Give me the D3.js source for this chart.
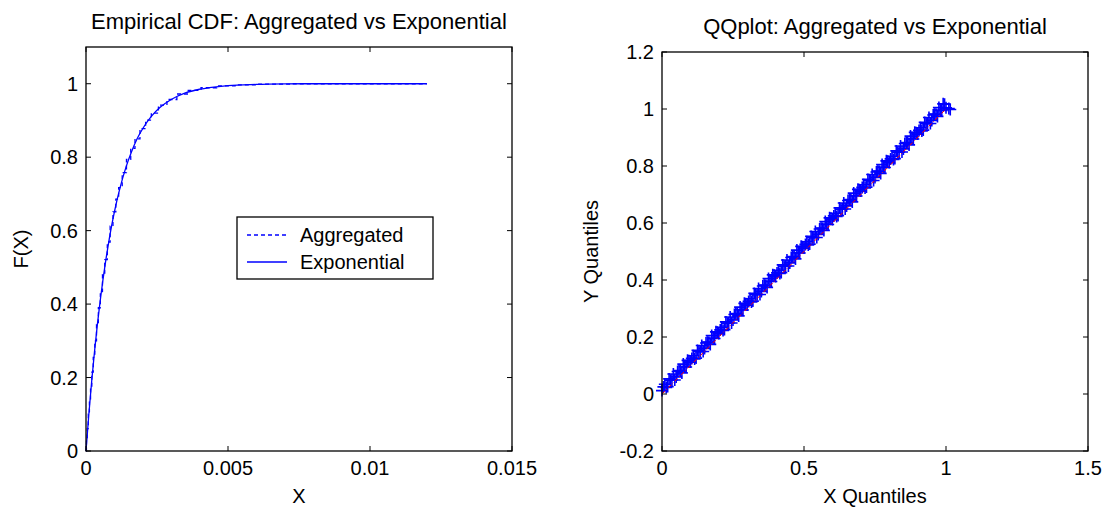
<!DOCTYPE html>
<html>
<head>
<meta charset="utf-8">
<title>Empirical CDF and QQplot</title>
<style>
  body { margin: 0; background: #ffffff; }
  svg text { font-family: "Liberation Sans", Arial, sans-serif; fill: #000; }
</style>
</head>
<body>
<script src="https://d3js.org/d3.v7.min.js"></script>
<script>

// ---- data ----
// exponential CDF (solid)
var expX = [0, 0.0001, 0.0002, 0.0003, 0.0004, 0.0005, 0.0006, 0.0007, 0.0008, 0.0009, 0.001,
            0.0012, 0.0014, 0.0016, 0.0018, 0.002, 0.0023, 0.0026, 0.003, 0.0035, 0.004,
            0.0045, 0.005, 0.006, 0.007, 0.008, 0.012];
var expF = [0, 0.10, 0.19, 0.271, 0.344, 0.409, 0.468, 0.521, 0.569, 0.612, 0.651,
            0.717, 0.771, 0.814, 0.850, 0.878, 0.911, 0.935, 0.957, 0.975, 0.985,
            0.991, 0.995, 0.998, 0.9994, 1.0, 1.0];

// aggregated empirical CDF (dashed, stairs)
var aggX = [0, 0.00003, 0.00006, 0.0001, 0.00014, 0.00018, 0.00023, 0.00028, 0.00034, 0.0004,
            0.00047, 0.00054, 0.00062, 0.0007, 0.0008, 0.0009, 0.001, 0.0011, 0.0012, 0.00135,
            0.0015, 0.00165, 0.0018, 0.002, 0.0022, 0.0024, 0.0027, 0.003, 0.0034, 0.0038,
            0.0043, 0.0049, 0.0056, 0.0065, 0.008, 0.012];
var aggF = [0, 0.031, 0.061, 0.10, 0.137, 0.172, 0.215, 0.255, 0.30, 0.344,
            0.39, 0.434, 0.48, 0.521, 0.569, 0.612, 0.651, 0.686, 0.717, 0.758,
            0.794, 0.824, 0.85, 0.878, 0.901, 0.92, 0.942, 0.957, 0.972, 0.982,
            0.989, 0.994, 0.997, 0.999, 1.0, 1.0];

// QQ plot: X quantiles vs Y quantiles
var qqX = [0, 0.01, 0.02, 0.03, 0.04, 0.05, 0.06, 0.07, 0.08, 0.09,
           0.10, 0.11, 0.12, 0.13, 0.14, 0.15, 0.16, 0.17, 0.18, 0.19,
           0.20, 0.21, 0.22, 0.23, 0.24, 0.25, 0.26, 0.27, 0.28, 0.29,
           0.30, 0.31, 0.32, 0.33, 0.34, 0.35, 0.36, 0.37, 0.38, 0.39,
           0.40, 0.41, 0.42, 0.43, 0.44, 0.45, 0.46, 0.47, 0.48, 0.49,
           0.50, 0.51, 0.52, 0.53, 0.54, 0.55, 0.56, 0.57, 0.58, 0.59,
           0.60, 0.61, 0.62, 0.63, 0.64, 0.65, 0.66, 0.67, 0.68, 0.69,
           0.70, 0.71, 0.72, 0.73, 0.74, 0.75, 0.76, 0.77, 0.78, 0.79,
           0.80, 0.81, 0.82, 0.83, 0.84, 0.85, 0.86, 0.87, 0.88, 0.89,
           0.90, 0.91, 0.92, 0.93, 0.94, 0.95, 0.96, 0.97, 0.98, 0.99,
           1.00, 1.01, 1.015];
var qqY = [0.012, 0.034, 0.026, 0.048, 0.070, 0.060, 0.082, 0.074, 0.096, 0.118,
           0.112, 0.134, 0.126, 0.148, 0.170, 0.160, 0.182, 0.174, 0.196, 0.218,
           0.212, 0.234, 0.226, 0.248, 0.270, 0.260, 0.282, 0.274, 0.296, 0.318,
           0.312, 0.334, 0.326, 0.348, 0.370, 0.360, 0.382, 0.374, 0.396, 0.418,
           0.412, 0.434, 0.426, 0.448, 0.470, 0.460, 0.482, 0.474, 0.496, 0.518,
           0.512, 0.534, 0.526, 0.548, 0.570, 0.560, 0.582, 0.574, 0.596, 0.618,
           0.612, 0.634, 0.626, 0.648, 0.670, 0.660, 0.682, 0.674, 0.696, 0.718,
           0.712, 0.734, 0.726, 0.748, 0.770, 0.760, 0.782, 0.774, 0.796, 0.818,
           0.812, 0.834, 0.826, 0.848, 0.870, 0.860, 0.882, 0.874, 0.896, 0.918,
           0.912, 0.934, 0.926, 0.948, 0.970, 0.960, 0.982, 0.974, 0.996, 1.018,
           1.004, 1.002, 0.998];
// in-between quantiles that fill the band
var qqX2 = [0.005, 0.015, 0.025, 0.035, 0.045, 0.055, 0.065, 0.075, 0.085, 0.095,
            0.105, 0.115, 0.125, 0.135, 0.145, 0.155, 0.165, 0.175, 0.185, 0.195,
            0.205, 0.215, 0.225, 0.235, 0.245, 0.255, 0.265, 0.275, 0.285, 0.295,
            0.305, 0.315, 0.325, 0.335, 0.345, 0.355, 0.365, 0.375, 0.385, 0.395,
            0.405, 0.415, 0.425, 0.435, 0.445, 0.455, 0.465, 0.475, 0.485, 0.495,
            0.505, 0.515, 0.525, 0.535, 0.545, 0.555, 0.565, 0.575, 0.585, 0.595,
            0.605, 0.615, 0.625, 0.635, 0.645, 0.655, 0.665, 0.675, 0.685, 0.695,
            0.705, 0.715, 0.725, 0.735, 0.745, 0.755, 0.765, 0.775, 0.785, 0.795,
            0.805, 0.815, 0.825, 0.835, 0.845, 0.855, 0.865, 0.875, 0.885, 0.895,
            0.905, 0.915, 0.925, 0.935, 0.945, 0.955, 0.965, 0.975, 0.985, 0.995];
var qqY2 = [0.025, 0.023, 0.053, 0.049, 0.049, 0.079, 0.081, 0.105, 0.095, 0.117,
            0.125, 0.123, 0.153, 0.149, 0.149, 0.179, 0.181, 0.205, 0.195, 0.217,
            0.225, 0.223, 0.253, 0.249, 0.249, 0.279, 0.281, 0.305, 0.295, 0.317,
            0.325, 0.323, 0.353, 0.349, 0.349, 0.379, 0.381, 0.405, 0.395, 0.417,
            0.425, 0.423, 0.453, 0.449, 0.449, 0.479, 0.481, 0.505, 0.495, 0.517,
            0.525, 0.523, 0.553, 0.549, 0.549, 0.579, 0.581, 0.605, 0.595, 0.617,
            0.625, 0.623, 0.653, 0.649, 0.649, 0.679, 0.681, 0.705, 0.695, 0.717,
            0.725, 0.723, 0.753, 0.749, 0.749, 0.779, 0.781, 0.805, 0.795, 0.817,
            0.825, 0.823, 0.853, 0.849, 0.849, 0.879, 0.881, 0.905, 0.895, 0.917,
            0.925, 0.923, 0.953, 0.949, 0.949, 0.979, 0.981, 1.005, 0.995, 1.017];
var refLineX = [0, 1];
var refLineY = [0, 1];

var cdfXTicks = [0, 0.005, 0.01, 0.015];
var cdfYTicks = [0, 0.2, 0.4, 0.6, 0.8, 1];
var qqXTicks = [0, 0.5, 1, 1.5];
var qqYTicks = [-0.2, 0, 0.2, 0.4, 0.6, 0.8, 1, 1.2];

var legendNames = ["Aggregated", "Exponential"];

// ---- layout ----
var W = 1109, H = 508;
var fontSize = 20;
var titleSize = 22;

var svg = d3.select("body").append("svg")
    .attr("width", W)
    .attr("height", H);

svg.append("rect").attr("width", W).attr("height", H).attr("fill", "#fff");

// draws a matlab style box with inward ticks on all 4 sides
function drawAxes(x, y, xt, yt, title, xlabel, ylabel, titleY, ylabelX) {
    var x0 = x.range()[0], x1 = x.range()[1];
    var y0 = y.range()[0], y1 = y.range()[1];
    var g = svg.append("g");
    var tl = 5;

    xt.forEach(function(v) {
        var px = x(v);
        g.append("line").attr("x1", px).attr("x2", px).attr("y1", y0).attr("y2", y0 - tl)
            .attr("stroke", "#000");
        g.append("line").attr("x1", px).attr("x2", px).attr("y1", y1).attr("y2", y1 + tl)
            .attr("stroke", "#000");
        g.append("text").attr("x", px).attr("y", y0 + 24)
            .attr("text-anchor", "middle").attr("font-size", fontSize)
            .text(String(v));
    });
    yt.forEach(function(v) {
        var py = y(v);
        g.append("line").attr("x1", x0).attr("x2", x0 + tl).attr("y1", py).attr("y2", py)
            .attr("stroke", "#000");
        g.append("line").attr("x1", x1).attr("x2", x1 - tl).attr("y1", py).attr("y2", py)
            .attr("stroke", "#000");
        g.append("text").attr("x", x0 - 8).attr("y", py + 7)
            .attr("text-anchor", "end").attr("font-size", fontSize)
            .text(String(v));
    });

    g.append("rect")
        .attr("x", x0).attr("y", y1)
        .attr("width", x1 - x0).attr("height", y0 - y1)
        .attr("fill", "none").attr("stroke", "#000").attr("stroke-width", 1.3);

    g.append("text").attr("x", (x0 + x1) / 2).attr("y", titleY)
        .attr("text-anchor", "middle").attr("font-size", titleSize).text(title);
    g.append("text").attr("x", (x0 + x1) / 2).attr("y", y0 + 52)
        .attr("text-anchor", "middle").attr("font-size", fontSize).text(xlabel);
    g.append("text")
        .attr("transform", "translate(" + ylabelX + "," + (y0 + y1) / 2 + ") rotate(-90)")
        .attr("text-anchor", "middle").attr("font-size", fontSize).text(ylabel);
}

// ---- left: empirical CDF ----
var cx = d3.scaleLinear().domain([0, 0.015]).range([86, 512]);
var cy = d3.scaleLinear().domain([0, 1.1]).range([451, 47]);

var plot1 = svg.append("g");

var expLine = d3.line()
    .x(function(d, i) { return cx(expX[i]); })
    .y(function(d, i) { return cy(expF[i]); })
    .curve(d3.curveMonotoneX);

var aggLine = d3.line()
    .x(function(d, i) { return cx(aggX[i]); })
    .y(function(d, i) { return cy(aggF[i]); })
    .curve(d3.curveStep);

plot1.append("path")
    .datum(aggX)
    .attr("d", aggLine)
    .attr("fill", "none")
    .attr("stroke", "#0000ff")
    .attr("stroke-width", 1.3)
    .attr("stroke-dasharray", "4,3");

plot1.append("path")
    .datum(expX)
    .attr("d", expLine)
    .attr("fill", "none")
    .attr("stroke", "#0000ff")
    .attr("stroke-width", 1.3);

drawAxes(cx, cy, cdfXTicks, cdfYTicks,
    "Empirical CDF: Aggregated vs Exponential", "X", "F(X)", 29, 28);

// legend
var leg = svg.append("g").attr("transform", "translate(237,217)");
leg.append("rect").attr("width", 196).attr("height", 62)
    .attr("fill", "#fff").attr("stroke", "#000").attr("stroke-width", 1.3);
legendNames.forEach(function(name, i) {
    var ly = 18 + i * 27;
    leg.append("line").attr("x1", 10).attr("x2", 50).attr("y1", ly).attr("y2", ly)
        .attr("stroke", "#0000ff").attr("stroke-width", 1.3)
        .attr("stroke-dasharray", i === 0 ? "4,3" : null);
    leg.append("text").attr("x", 63).attr("y", ly + 7)
        .attr("font-size", fontSize).text(name);
});

// ---- right: QQ plot ----
var qx = d3.scaleLinear().domain([0, 1.5]).range([662, 1088]);
var qy = d3.scaleLinear().domain([-0.2, 1.2]).range([451, 52]);

var plot2 = svg.append("g");
var ms = 6;
function plus(px, py) {
    plot2.append("path")
        .attr("d", "M" + (px - ms) + "," + py + "H" + (px + ms) +
                   "M" + px + "," + (py - ms) + "V" + (py + ms))
        .attr("stroke", "#0000ff")
        .attr("stroke-width", 1.6)
        .attr("fill", "none");
}
qqX.forEach(function(v, i) { plus(qx(v), qy(qqY[i])); });
qqX2.forEach(function(v, i) { plus(qx(v), qy(qqY2[i])); });

plot2.append("line")
    .attr("x1", qx(refLineX[0])).attr("y1", qy(refLineY[0]))
    .attr("x2", qx(refLineX[1])).attr("y2", qy(refLineY[1]))
    .attr("stroke", "#ff0000")
    .attr("stroke-width", 1)
    .attr("stroke-dasharray", "4,2,1,2");

drawAxes(qx, qy, qqXTicks, qqYTicks,
    "QQplot: Aggregated vs Exponential", "X Quantiles", "Y Quantiles", 34, 598);

</script>
</body>
</html>
